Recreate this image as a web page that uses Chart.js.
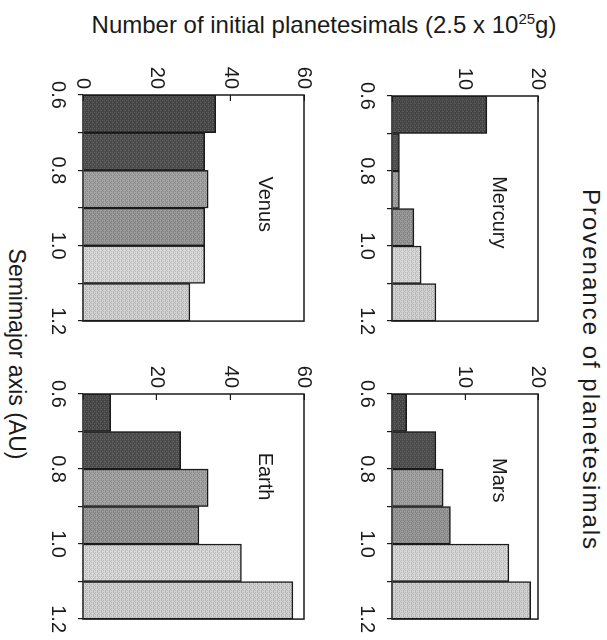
<!DOCTYPE html>
<html>
<head>
<meta charset="utf-8">
<script src="https://cdn.jsdelivr.net/npm/chart.js@4.4.1/dist/chart.umd.min.js"></script>
<style>
  html, body { margin: 0; padding: 0; background: #fff; }
  body { width: 607px; height: 640px; overflow: hidden; position: relative;
         font-family: "Liberation Sans", Arial, sans-serif; color: #1a1a1a; }
  /* the figure is laid out upright, then turned a quarter clockwise like the scan */
  #figure { position: absolute; left: 0; top: 0; width: 640px; height: 607px;
            transform-origin: 0 0; transform: translate(607px, 0) rotate(90deg); }
  #figure canvas { position: absolute; }
  .title { position: absolute; white-space: nowrap; line-height: 1; transform: translate(-50%, -50%); }
  .title sup { font-size: 15px; vertical-align: 9px; line-height: 0; }
</style>
</head>
<body>
<div id="figure">
  <div class="title" style="left:370px; top:16px; font-size:24px; letter-spacing:2px;">Provenance of planetesimals</div>
  <div class="title" style="left:25px; top:283px; font-size:24px; transform:translate(-50%,-50%) rotate(-90deg);">Number of initial planetesimals (2.5 x 10<sup>25</sup>g)</div>
  <div class="title" style="left:354px; top:591px; font-size:23px;">Semimajor axis (AU)</div>
  <canvas id="mercury"></canvas>
  <canvas id="mars"></canvas>
  <canvas id="venus"></canvas>
  <canvas id="earth"></canvas>
</div>
<script>
// bins of semimajor axis (AU), centre of each 0.1 AU bin
const binCenters = [0.65, 0.75, 0.85, 0.95, 1.05, 1.15];
const axisLabels = ['0.6', '0.8', '1.0', '1.2'];

// number of initial planetesimals from each bin
const mercuryCounts = [13, 1, 1, 3, 4, 6];
const marsCounts = [2, 6, 7, 8, 16, 19];
const venusCounts = [36, 33, 34, 33, 33, 29];
const earthCounts = [7.5, 26.5, 34, 31.5, 43, 57];

const binColors = ['#4a4a4a', '#505050', '#a0a0a0', '#959595', '#d6d6d6', '#d0d0d0'];
const ink = '#1a1a1a';
const fontFamily = '"Liberation Sans", Arial, sans-serif';

// layout of each panel's plot box (upright figure coordinates)
const panels = [
  { id: 'mercury', name: 'Mercury', counts: mercuryCounts, max: 20, step: 10, showZero: false, labelAt: 0.91, left: 96, top: 59, w: 227, h: 156 },
  { id: 'mars', name: 'Mars', counts: marsCounts, max: 20, step: 10, showZero: false, labelAt: 0.83, left: 394, top: 59, w: 227, h: 156 },
  { id: 'venus', name: 'Venus', counts: venusCounts, max: 60, step: 20, showZero: true, labelAt: 0.89, left: 95, top: 293, w: 228, h: 231 },
  { id: 'earth', name: 'Earth', counts: earthCounts, max: 60, step: 20, showZero: false, labelAt: 0.82, left: 394, top: 293, w: 227, h: 231 }
];

const yAxisWidth = 50, xAxisHeight = 45, padTop = 14, padRight = 20;

// fine crosshatch, like the screened fills of the print
function texture(base) {
  const c = document.createElement('canvas');
  c.width = c.height = 4;
  const g = c.getContext('2d');
  g.fillStyle = base;
  g.fillRect(0, 0, 4, 4);
  g.fillStyle = 'rgba(0,0,0,0.12)';
  [[0, 0], [2, 0], [1, 1], [3, 2], [0, 2], [2, 2]].forEach(([x, y]) => g.fillRect(x, y, 1, 1));
  g.fillStyle = 'rgba(255,255,255,0.10)';
  [[1, 3], [3, 1], [3, 3], [1, 2]].forEach(([x, y]) => g.fillRect(x, y, 1, 1));
  return g.createPattern(c, 'repeat');
}
const binFills = binColors.map(texture);

// frame around the plot and the planet name inside it
const panelFrame = {
  id: 'panelFrame',
  afterDatasetsDraw(chart, args, opts) {
    const a = chart.chartArea;
    const ctx = chart.ctx;
    ctx.save();
    ctx.lineWidth = 1.5;
    ctx.strokeStyle = ink;
    ctx.strokeRect(a.left, a.top, a.right - a.left, a.bottom - a.top);
    ctx.font = '20px ' + fontFamily;
    ctx.fillStyle = ink;
    ctx.textAlign = 'center';
    ctx.textBaseline = 'middle';
    ctx.fillText(opts.text, chart.scales.x.getPixelForValue(opts.at), a.top + 39);
    ctx.restore();
  }
};

panels.forEach(p => {
  const canvas = document.getElementById(p.id);
  canvas.width = p.w + yAxisWidth + padRight;
  canvas.height = p.h + padTop + xAxisHeight;
  canvas.style.left = (p.left - yAxisWidth) + 'px';
  canvas.style.top = (p.top - padTop) + 'px';

  new Chart(canvas.getContext('2d'), {
    type: 'bar',
    data: {
      datasets: [{
        data: binCenters.map((x, i) => ({ x: x, y: p.counts[i] })),
        backgroundColor: binFills,
        borderColor: ink,
        borderWidth: 1.5,
        barPercentage: 1,
        categoryPercentage: 1
      }]
    },
    options: {
      responsive: false,
      animation: false,
      events: [],
      layout: { padding: { top: padTop, right: padRight, left: 0, bottom: 0 } },
      plugins: {
        legend: { display: false },
        tooltip: { enabled: false },
        panelFrame: { text: p.name, at: p.labelAt }
      },
      scales: {
        x: {
          type: 'linear',
          min: 0.6,
          max: 1.2,
          offset: false,
          afterFit: s => { s.height = xAxisHeight; },
          border: { display: false },
          grid: { offset: false, drawOnChartArea: false, tickLength: 5, color: ink, lineWidth: 1.2 },
          ticks: {
            stepSize: 0.1,
            maxRotation: 0,
            autoSkip: false,
            padding: 8,
            color: ink,
            font: { family: fontFamily, size: 20 },
            callback: v => {
              const s = v.toFixed(1);
              return axisLabels.includes(s) ? s : '';
            }
          }
        },
        y: {
          min: 0,
          max: p.max,
          afterFit: s => { s.width = yAxisWidth; },
          border: { display: false },
          grid: { drawOnChartArea: false, tickLength: -6, color: ink, lineWidth: 1.2 },
          ticks: {
            stepSize: p.step,
            padding: 12,
            color: ink,
            font: { family: fontFamily, size: 20 },
            callback: v => (v === 0 && !p.showZero) ? '' : v
          }
        }
      }
    },
    plugins: [panelFrame]
  });
});
</script>
</body>
</html>
